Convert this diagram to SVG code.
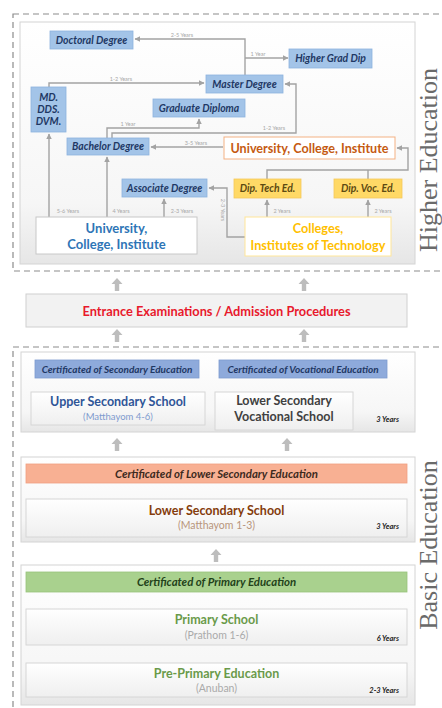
<svg xmlns="http://www.w3.org/2000/svg" width="442" height="708" viewBox="0 0 442 708">
  <style>
    text { font-family: Lato, "Liberation Sans", sans-serif; text-anchor: middle; }
    .dash { fill: none; stroke: #8c8c8c; stroke-width: 1.2; stroke-dasharray: 6 4; }
    .panel { fill: url(#panelGrad); stroke: #d4d4d4; stroke-width: 1; }
    .blue { fill: #a3c4e8; stroke: #8db3df; stroke-width: 0.8; }
    .blueTxt { fill: #1f3864; font-size: 10.4px; font-weight: bold; font-style: italic; }
    .dip { fill: #ffd966; stroke: #f5c85a; stroke-width: 0.8; }
    .dipTxt { fill: #5c4a12; font-size: 10.4px; font-weight: bold; font-style: italic; }
    .white { fill: #ffffff; stroke: #c8c8c8; stroke-width: 1; }
    .conn { fill: none; stroke: #a3a3a3; stroke-width: 1.4; }
    .lbl { fill: #a8a8a8; font-size: 5.5px; }
    .cert { fill: #8eaadb; stroke: #7d9bd0; stroke-width: 0.8; }
    .certTxt { fill: #1f3864; font-size: 10px; font-weight: bold; font-style: italic; }
    .box { fill: url(#boxGrad); stroke: #d6d6d6; stroke-width: 1; }
    .head { font-size: 12.5px; font-weight: bold; }
    .sub { font-size: 10.5px; }
    .yrs { fill: #262626; font-size: 7.5px; font-weight: bold; font-style: italic; text-anchor: end; }
    .side { font-family: "Liberation Serif", serif; fill: #6a6a6a; font-size: 26px; }
    .blk { fill: #bdbdbd; }
    .thin { fill: none; stroke: #c4c4c4; stroke-width: 1.2; }
  </style>
  <defs>
    <linearGradient id="panelGrad" x1="0" y1="0" x2="0" y2="1">
      <stop offset="0" stop-color="#ffffff"/>
      <stop offset="0.75" stop-color="#f6f6f6"/>
      <stop offset="1" stop-color="#e6e6e6"/>
    </linearGradient>
    <linearGradient id="boxGrad" x1="0" y1="0" x2="0" y2="1">
      <stop offset="0" stop-color="#ffffff"/>
      <stop offset="1" stop-color="#efefef"/>
    </linearGradient>
    <marker id="arr" viewBox="0 0 10 10" refX="9" refY="5" markerWidth="4" markerHeight="4" orient="auto">
      <path d="M0,0 L10,5 L0,10 Z" fill="#a3a3a3"/>
    </marker>
    <marker id="arrThin" viewBox="0 0 10 10" refX="9" refY="5" markerWidth="4" markerHeight="4" orient="auto">
      <path d="M0,0 L10,5 L0,10 Z" fill="#c4c4c4"/>
    </marker>
    <path id="blockUp" d="M0,0 L5.5,6 L2.2,6 L2.2,13 L-2.2,13 L-2.2,6 L-5.5,6 Z"/>
  </defs>

  <!-- section frames -->
  <rect class="dash" x="13" y="14" width="445" height="257"/>
  <rect class="dash" x="13" y="347" width="445" height="380"/>

  <!-- side captions -->
  <text class="side" transform="translate(437,160) rotate(-90)">Higher  Education</text>
  <text class="side" transform="translate(437,545) rotate(-90)">Basic  Education</text>

  <!-- higher education panel -->
  <rect class="panel" x="20" y="22" width="395" height="242"/>

  <!-- connectors -->
  <g id="connectors">
    <path class="conn" d="M245,75 V39 H135" marker-end="url(#arr)"/>
    <path class="conn" d="M245,58 H288" marker-end="url(#arr)"/>
    <path class="conn" d="M49,87 V83 H204" marker-end="url(#arr)"/>
    <path class="conn" d="M107,138 V128 H199 V119" marker-end="url(#arr)"/>
    <path class="conn" d="M112,138 V133 H296 V84 H285" marker-end="url(#arr)"/>
    <path class="conn" d="M223,147 H151" marker-end="url(#arr)"/>
    <path class="conn" d="M267,179 V170 H408 V148 H397" marker-end="url(#arr)"/>
    <path class="conn" d="M368,179 V170"/>
    <path class="conn" d="M49,217 V134" marker-end="url(#arr)"/>
    <path class="conn" d="M107,217 V157" marker-end="url(#arr)"/>
    <path class="conn" d="M164,217 V199" marker-end="url(#arr)"/>
    <path class="conn" d="M245,237 H227 V188 H209" marker-end="url(#arr)"/>
    <path class="conn" d="M267,217 V200" marker-end="url(#arr)"/>
    <path class="conn" d="M368,217 V200" marker-end="url(#arr)"/>

    <text class="lbl" x="182" y="37">2-5 Years</text>
    <text class="lbl" x="258" y="56">1 Year</text>
    <text class="lbl" x="121" y="81">1-2 Years</text>
    <text class="lbl" x="128" y="126">1 Year</text>
    <text class="lbl" x="274" y="130">1-2 Years</text>
    <text class="lbl" x="196" y="145">3-5 Years</text>
    <text class="lbl" x="68" y="213">5-6 Years</text>
    <text class="lbl" x="121" y="213">4 Years</text>
    <text class="lbl" x="182" y="213">2-3 Years</text>
    <text class="lbl" x="282" y="213">2 Years</text>
    <text class="lbl" x="383" y="213">2 Years</text>
    <text class="lbl" transform="translate(221,210) rotate(90)">2-3 Years</text>

    <!-- flow arrows between stages -->
    <use href="#blockUp" class="blk" x="117" y="278"/>
    <use href="#blockUp" class="blk" x="304" y="278"/>
    <use href="#blockUp" class="blk" x="117" y="329"/>
    <use href="#blockUp" class="blk" x="304" y="329"/>
    <use href="#blockUp" class="blk" x="117" y="438"/>
    <use href="#blockUp" class="blk" x="287" y="438"/>
    <use href="#blockUp" class="blk" x="216" y="549"/>
    <path class="thin" d="M117,391 V381" marker-end="url(#arrThin)"/>
    <path class="thin" d="M287,391 V381" marker-end="url(#arrThin)"/>
    <path class="thin" d="M216,497 V486" marker-end="url(#arrThin)"/>
    <path class="thin" d="M216,607 V596" marker-end="url(#arrThin)"/>
    <path class="thin" d="M216,661 V649" marker-end="url(#arrThin)"/>
  </g>

  <!-- higher education nodes -->
  <g id="doctoral"><rect class="blue" x="50" y="31" width="83" height="18"/><text class="blueTxt" x="91.5" y="43.8">Doctoral Degree</text></g>
  <g id="higher-grad-dip"><rect class="blue" x="289" y="49" width="83" height="19"/><text class="blueTxt" x="330.5" y="62.3">Higher Grad Dip</text></g>
  <g id="master"><rect class="blue" x="206" y="75" width="77" height="18"/><text class="blueTxt" x="244.5" y="87.8">Master Degree</text></g>
  <g id="md-dds-dvm"><rect class="blue" x="31" y="87" width="35" height="45"/>
    <text class="blueTxt" x="48.5" y="101">MD.</text><text class="blueTxt" x="48.5" y="113">DDS.</text><text class="blueTxt" x="48.5" y="125">DVM.</text></g>
  <g id="graduate-diploma"><rect class="blue" x="153" y="99" width="92" height="18"/><text class="blueTxt" x="199" y="111.8">Graduate Diploma</text></g>
  <g id="bachelor"><rect class="blue" x="67" y="138" width="82" height="17"/><text class="blueTxt" x="108" y="150.3">Bachelor Degree</text></g>
  <g id="uci-orange"><rect x="224" y="137" width="171" height="22" fill="#ffffff" stroke="#f4b183" stroke-width="1"/>
    <text x="309.5" y="152.5" fill="#c55a11" font-size="12.6" font-weight="bold">University, College, Institute</text></g>
  <g id="associate"><rect class="blue" x="122" y="179" width="85" height="18"/><text class="blueTxt" x="164.5" y="191.8">Associate Degree</text></g>
  <g id="dip-tech"><rect class="dip" x="234" y="179" width="67" height="19"/><text class="dipTxt" x="267.5" y="192.3">Dip. Tech Ed.</text></g>
  <g id="dip-voc"><rect class="dip" x="334" y="179" width="68" height="19"/><text class="dipTxt" x="368" y="192.3">Dip. Voc. Ed.</text></g>
  <g id="uci-blue"><rect class="white" x="36" y="217" width="161" height="37"/>
    <text x="116.5" y="233" fill="#2e75b6" font-size="13" font-weight="bold">University,</text>
    <text x="116.5" y="249" fill="#2e75b6" font-size="13" font-weight="bold">College, Institute</text></g>
  <g id="colleges"><rect x="245" y="217" width="146" height="39" fill="#ffffff" stroke="#ffe699" stroke-width="1"/>
    <text x="318" y="233" fill="#ffc000" font-size="12.7" font-weight="bold">Colleges,</text>
    <text x="318" y="250" fill="#ffc000" font-size="12.7" font-weight="bold">Institutes of Technology</text></g>

  <!-- admission -->
  <g id="entrance"><rect x="26" y="294" width="381" height="33" fill="#f2f2f2" stroke="#d0d0d0" stroke-width="1"/>
    <text x="216.5" y="315.5" fill="#e8192c" font-size="12.8" font-weight="bold">Entrance Examinations / Admission Procedures</text></g>

  <!-- secondary stage -->
  <rect class="panel" x="21" y="352" width="394" height="80"/>
  <g id="cert-secondary"><rect class="cert" x="35" y="360" width="164" height="18"/><text class="certTxt" x="117" y="372.8">Certificated of Secondary Education</text></g>
  <g id="cert-vocational"><rect class="cert" x="219" y="360" width="168" height="18"/><text class="certTxt" x="303" y="372.8">Certificated of Vocational Education</text></g>
  <g id="upper-secondary"><rect class="box" x="31" y="392" width="174" height="33"/>
    <text class="head" x="118" y="406" fill="#2f5597">Upper Secondary School</text>
    <text x="118" y="419.5" fill="#7f9bcf" font-size="9.5">(Matthayom 4-6)</text></g>
  <g id="lower-secondary-vocational"><rect class="box" x="215" y="392" width="138" height="38"/>
    <text class="head" x="284" y="405" fill="#404040">Lower Secondary</text>
    <text class="head" x="284" y="421" fill="#404040">Vocational School</text></g>
  <text class="yrs" x="399" y="422">3 Years</text>

  <!-- lower secondary stage -->
  <rect class="panel" x="21" y="457" width="394" height="85"/>
  <g id="cert-lower-secondary"><rect x="26" y="464" width="381" height="19" fill="#f8b093" stroke="#f0a082" stroke-width="0.8"/>
    <text x="216.5" y="477.5" fill="#3d2a1e" font-size="11.4" font-weight="bold" font-style="italic">Certificated of Lower Secondary Education</text></g>
  <g id="lower-secondary"><rect class="box" x="26" y="499" width="381" height="38"/>
    <text class="head" x="216.5" y="515" fill="#843c0c">Lower Secondary School</text>
    <text class="sub" x="216.5" y="529" fill="#b8957c">(Matthayom 1-3)</text></g>
  <text class="yrs" x="399" y="529">3 Years</text>

  <!-- primary stage -->
  <rect class="panel" x="21" y="565" width="394" height="140"/>
  <g id="cert-primary"><rect x="26" y="572" width="381" height="20" fill="#a9d18e" stroke="#98c47c" stroke-width="0.8"/>
    <text x="216.5" y="586" fill="#23421a" font-size="11.4" font-weight="bold" font-style="italic">Certificated of Primary Education</text></g>
  <g id="primary"><rect class="box" x="26" y="609" width="381" height="36"/>
    <text class="head" x="216.5" y="624" fill="#6a9a4a">Primary School</text>
    <text class="sub" x="216.5" y="638.5" fill="#aaaaaa">(Prathom 1-6)</text></g>
  <text class="yrs" x="399" y="641">6 Years</text>
  <g id="pre-primary"><rect class="box" x="26" y="663" width="381" height="34"/>
    <text class="head" x="216.5" y="678" fill="#6a9a4a">Pre-Primary Education</text>
    <text class="sub" x="216.5" y="691.5" fill="#aaaaaa">(Anuban)</text></g>
  <text class="yrs" x="399" y="693">2-3 Years</text>
</svg>
